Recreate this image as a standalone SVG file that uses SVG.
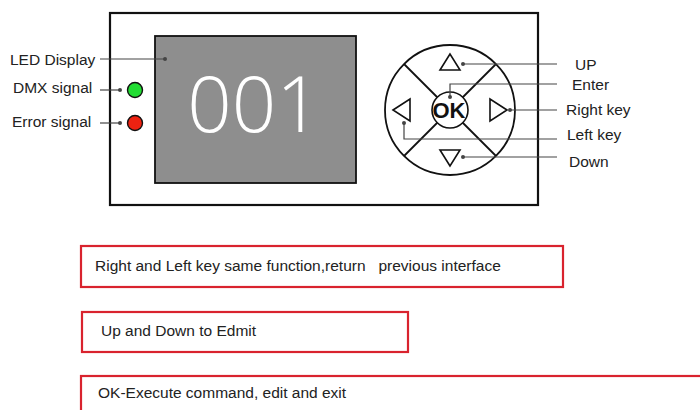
<svg xmlns="http://www.w3.org/2000/svg" width="700" height="410" viewBox="0 0 700 410">
<style>
.lbl{font-family:"Liberation Sans",Arial,sans-serif;font-size:15.5px;fill:#222}
.box{fill:none;stroke:#d9232e;stroke-width:2.2}
.ln{stroke:#444;stroke-width:1.2;fill:none}
.dot{fill:#444}
.key{fill:#fff;stroke:#111;stroke-width:1.6}
</style>
<rect width="700" height="410" fill="#fff"/>
<g id="panel">
<rect x="110" y="13" width="428" height="192" fill="#fff" stroke="#111" stroke-width="2.2"/>
</g>
<g id="display">
<rect x="155" y="36" width="201" height="147" fill="#8e8e8e" stroke="#111" stroke-width="1.8"/>
<text x="254" y="132" text-anchor="middle" style="font-family:'Open Sans','DejaVu Sans',sans-serif;font-size:78px;font-weight:300;fill:#fff">001</text>
</g>
<g id="dmx-led"><circle cx="135" cy="90" r="7.5" fill="#22dd33" stroke="#111" stroke-width="1.4"/></g>
<g id="error-led"><circle cx="135" cy="123" r="7.5" fill="#ee2211" stroke="#111" stroke-width="1.4"/></g>
<g id="keypad">
<circle cx="450" cy="110" r="65" fill="#fff" stroke="#111" stroke-width="1.8"/>
<line x1="404" y1="64" x2="496" y2="156" stroke="#111" stroke-width="1.8"/>
<line x1="496" y1="64" x2="404" y2="156" stroke="#111" stroke-width="1.8"/>
<circle cx="450" cy="110" r="18" fill="#fff" stroke="#111" stroke-width="1.6"/>
<text x="449" y="118" text-anchor="middle" style="font-family:'Liberation Sans',Arial,sans-serif;font-size:22px;font-weight:bold;fill:#111">OK</text>
<polygon class="key" points="450,54 440,70 460,70"/>
<polygon class="key" points="450,166 440,150 460,150"/>
<polygon class="key" points="393,110 410,99 410,121"/>
<polygon class="key" points="507,110 490,99 490,121"/>
</g>
<g id="connectors">
<path class="ln" d="M100,59 H165"/><circle class="dot" cx="165" cy="59" r="2"/>
<path class="ln" d="M100,90 H120"/><circle class="dot" cx="120" cy="90" r="2"/>
<path class="ln" d="M100,123 H120"/><circle class="dot" cx="120" cy="123" r="2"/>
<path class="ln" d="M463,64 H557"/><circle class="dot" cx="463" cy="64" r="2"/>
<path class="ln" d="M450,97 V84 H557"/><circle class="dot" cx="450" cy="97" r="2"/>
<path class="ln" d="M510,110 H557"/><circle class="dot" cx="510" cy="110" r="2"/>
<path class="ln" d="M404,123 V139 H557"/><circle class="dot" cx="404" cy="123" r="2"/>
<path class="ln" d="M463,157 H557"/><circle class="dot" cx="463" cy="157" r="2"/>
</g>
<g id="labels">
<text class="lbl" x="10" y="65">LED Display</text>
<text class="lbl" x="13" y="93">DMX signal</text>
<text class="lbl" x="12" y="127">Error signal</text>
<text class="lbl" x="575" y="70">UP</text>
<text class="lbl" x="572" y="90">Enter</text>
<text class="lbl" x="566" y="115">Right key</text>
<text class="lbl" x="567" y="140">Left key</text>
<text class="lbl" x="569" y="167">Down</text>
</g>
<g id="note1">
<rect class="box" x="81" y="246" width="482" height="41"/>
<text class="lbl" x="95" y="271" xml:space="preserve">Right and Left key same function,return   previous interface</text>
</g>
<g id="note2">
<rect class="box" x="82" y="312" width="326" height="40"/>
<text class="lbl" x="101" y="336">Up and Down to Edmit</text>
</g>
<g id="note3">
<rect class="box" x="81" y="376" width="630" height="50"/>
<text class="lbl" x="98" y="398">OK-Execute command, edit and exit</text>
</g>
</svg>
